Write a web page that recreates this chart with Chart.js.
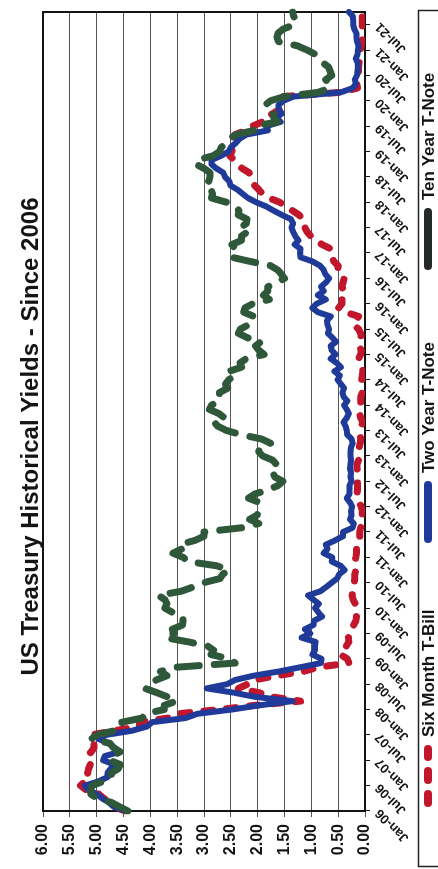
<!DOCTYPE html>
<html>
<head>
<meta charset="utf-8">
<title>US Treasury Historical Yields - Since 2006</title>
<script src="https://cdn.jsdelivr.net/npm/chart.js@4.4.1/dist/chart.umd.min.js"></script>
<style>
  html, body { margin: 0; padding: 0; background: #fff; }
  /* the chart is printed sideways: a landscape canvas turned a quarter turn counter-clockwise */
  #page { position: relative; width: 438px; height: 869px; overflow: hidden; background: #fff; }
  #frame { position: absolute; left: 0; top: 0; width: 869px; height: 438px;
           transform-origin: 0 0; transform: translateY(869px) rotate(-90deg); }
  canvas { display: block; }
</style>
</head>
<body>
<div id="page"><div id="frame"><canvas id="yields" width="869" height="438"></canvas></div></div>
<script>
// Month labels, Jan-06 through Oct-21
const monthNames = ['Jan','Feb','Mar','Apr','May','Jun','Jul','Aug','Sep','Oct','Nov','Dec'];
const yearCodes = ['06','07','08','09','10','11','12','13','14','15','16','17','18','19','20','21'];
const monthsInLastYear = 10;
const months = [];
yearCodes.forEach((yy, i) => {
  monthNames.forEach((m, j) => {
    if (i < yearCodes.length - 1 || j < monthsInLastYear) months.push(m + '-' + yy);
  });
});

// Value axis ticks
const yieldTicks = [0, 0.5, 1, 1.5, 2, 2.5, 3, 3.5, 4, 4.5, 5, 5.5, 6];

// Monthly yields, percent
const sixMonthTBill = [
  4.47, 4.67, 4.76, 4.87, 4.96, 5.20, 5.30, 5.22, 5.13, 5.17, 5.15, 5.12, // 2006
  5.15, 5.18, 5.10, 5.05, 5.05, 5.08, 5.10, 4.67, 4.20, 4.20, 3.67, 3.49, // 2007
  2.71, 2.05, 1.20, 1.74, 1.98, 2.36, 2.19, 2.07, 1.65, 1.15, 0.88, 0.30, // 2008
  0.33, 0.46, 0.43, 0.35, 0.30, 0.31, 0.28, 0.27, 0.21, 0.17, 0.16, 0.17, // 2009
  0.15, 0.18, 0.22, 0.24, 0.23, 0.22, 0.20, 0.19, 0.19, 0.17, 0.17, 0.19, // 2010
  0.17, 0.16, 0.16, 0.12, 0.09, 0.10, 0.10, 0.08, 0.05, 0.07, 0.05, 0.05, // 2011
  0.07, 0.11, 0.14, 0.15, 0.14, 0.14, 0.14, 0.13, 0.13, 0.15, 0.15, 0.12, // 2012
  0.11, 0.12, 0.11, 0.09, 0.08, 0.09, 0.08, 0.07, 0.04, 0.08, 0.10, 0.10, // 2013
  0.07, 0.08, 0.08, 0.05, 0.05, 0.06, 0.06, 0.05, 0.04, 0.05, 0.07, 0.12, // 2014
  0.08, 0.07, 0.11, 0.09, 0.07, 0.08, 0.12, 0.22, 0.17, 0.12, 0.37, 0.49, // 2015
  0.43, 0.43, 0.46, 0.39, 0.43, 0.41, 0.39, 0.45, 0.51, 0.50, 0.58, 0.62, // 2016
  0.61, 0.64, 0.80, 0.92, 1.01, 1.08, 1.12, 1.12, 1.15, 1.23, 1.35, 1.47, // 2017
  1.59, 1.79, 1.91, 1.98, 2.06, 2.11, 2.12, 2.16, 2.29, 2.37, 2.44, 2.52, // 2018
  2.48, 2.48, 2.49, 2.46, 2.42, 2.22, 2.10, 1.91, 1.89, 1.71, 1.59, 1.57, // 2019
  1.56, 1.52, 0.45, 0.14, 0.15, 0.17, 0.13, 0.12, 0.12, 0.11, 0.10, 0.09, // 2020
  0.09, 0.07, 0.05, 0.04, 0.04, 0.05, 0.05, 0.05, 0.05, 0.06              // 2021
];

const twoYearTNote = [
  4.45, 4.68, 4.77, 4.90, 5.00, 5.16, 5.22, 4.97, 4.80, 4.80, 4.74, 4.67, // 2006
  4.88, 4.85, 4.57, 4.67, 4.77, 4.96, 4.82, 4.34, 4.06, 3.97, 3.34, 3.12, // 2007
  2.48, 1.97, 1.35, 2.05, 2.45, 2.95, 2.57, 2.42, 2.08, 1.61, 1.21, 0.82, // 2008
  0.81, 0.98, 0.93, 0.93, 0.92, 1.18, 1.02, 1.12, 0.96, 0.95, 0.80, 0.87, // 2009
  0.93, 0.86, 0.96, 1.06, 0.83, 0.72, 0.62, 0.52, 0.48, 0.38, 0.45, 0.62, // 2010
  0.61, 0.77, 0.70, 0.73, 0.56, 0.41, 0.41, 0.23, 0.21, 0.28, 0.25, 0.26, // 2011
  0.24, 0.28, 0.34, 0.29, 0.29, 0.29, 0.25, 0.27, 0.26, 0.28, 0.27, 0.26, // 2012
  0.27, 0.27, 0.26, 0.23, 0.25, 0.33, 0.34, 0.36, 0.40, 0.34, 0.30, 0.34, // 2013
  0.39, 0.33, 0.40, 0.42, 0.39, 0.45, 0.51, 0.47, 0.57, 0.45, 0.53, 0.64, // 2014
  0.55, 0.62, 0.64, 0.54, 0.61, 0.69, 0.67, 0.70, 0.71, 0.64, 0.88, 0.98, // 2015
  0.90, 0.73, 0.88, 0.77, 0.82, 0.73, 0.67, 0.74, 0.77, 0.84, 0.98, 1.20, // 2016
  1.21, 1.20, 1.31, 1.24, 1.30, 1.34, 1.37, 1.34, 1.38, 1.55, 1.70, 1.84, // 2017
  2.03, 2.18, 2.28, 2.38, 2.51, 2.53, 2.61, 2.64, 2.77, 2.86, 2.86, 2.68, // 2018
  2.54, 2.50, 2.41, 2.34, 2.21, 1.81, 1.84, 1.57, 1.65, 1.55, 1.61, 1.61, // 2019
  1.52, 1.33, 0.45, 0.23, 0.17, 0.19, 0.15, 0.14, 0.13, 0.14, 0.17, 0.14, // 2020
  0.13, 0.12, 0.15, 0.16, 0.16, 0.20, 0.22, 0.22, 0.23, 0.30              // 2021
];

const tenYearTNote = [
  4.42, 4.57, 4.72, 4.99, 5.11, 5.11, 5.09, 4.88, 4.72, 4.73, 4.60, 4.56, // 2006
  4.76, 4.72, 4.56, 4.69, 4.75, 5.10, 5.00, 4.67, 4.52, 4.53, 4.15, 4.10, // 2007
  3.74, 3.74, 3.51, 3.68, 3.88, 4.10, 4.01, 3.89, 3.69, 3.81, 3.53, 2.42, // 2008
  2.52, 2.87, 2.82, 2.93, 3.29, 3.72, 3.56, 3.59, 3.40, 3.39, 3.40, 3.59, // 2009
  3.73, 3.69, 3.73, 3.85, 3.42, 3.20, 3.01, 2.70, 2.65, 2.54, 2.76, 3.29, // 2010
  3.39, 3.58, 3.41, 3.46, 3.17, 3.00, 3.00, 2.30, 1.98, 2.15, 2.01, 1.98, // 2011
  1.97, 1.97, 2.17, 2.05, 1.80, 1.62, 1.53, 1.68, 1.72, 1.75, 1.65, 1.72, // 2012
  1.91, 1.98, 1.96, 1.76, 1.93, 2.30, 2.58, 2.74, 2.81, 2.62, 2.72, 2.90, // 2013
  2.86, 2.71, 2.72, 2.71, 2.56, 2.60, 2.54, 2.42, 2.53, 2.30, 2.33, 2.21, // 2014
  1.88, 1.98, 2.04, 1.94, 2.20, 2.36, 2.32, 2.17, 2.17, 2.07, 2.26, 2.24, // 2015
  2.09, 1.78, 1.89, 1.81, 1.81, 1.64, 1.50, 1.56, 1.63, 1.76, 2.14, 2.49, // 2016
  2.43, 2.42, 2.48, 2.30, 2.30, 2.19, 2.32, 2.21, 2.20, 2.36, 2.35, 2.40, // 2017
  2.58, 2.86, 2.84, 2.87, 2.98, 2.91, 2.89, 2.89, 3.00, 3.15, 3.12, 2.83, // 2018
  2.71, 2.68, 2.57, 2.53, 2.40, 2.07, 2.06, 1.63, 1.70, 1.71, 1.81, 1.86, // 2019
  1.76, 1.50, 0.87, 0.66, 0.67, 0.73, 0.62, 0.65, 0.68, 0.79, 0.87, 0.93, // 2020
  1.08, 1.26, 1.61, 1.64, 1.62, 1.52, 1.32, 1.28, 1.33, 1.35              // 2021
];

const seriesNames = ['Six Month T-Bill', 'Two Year T-Note', 'Ten Year T-Note'];

const FONT = "'Liberation Sans', Arial, Helvetica, sans-serif";
const INK = '#141414';

// Series styles
const styles = [
  { color: '#c2162d', width: 7, dash: [9, 14], legendColor: '#c2162d', legendDash: [9, 14] },
  { color: '#1f3a98', width: 6, dash: [],      legendColor: '#1f3a98', legendDash: [] },
  { color: '#2e5839', width: 7, dash: [22, 15], legendColor: '#262a27', legendDash: [] }
];

// Frame around the plotting area
const plotFrame = {
  id: 'plotFrame',
  beforeDatasetsDraw(chart) {
    const { ctx, chartArea: a } = chart;
    ctx.save();
    ctx.strokeStyle = INK;
    ctx.lineWidth = 2;
    ctx.strokeRect(a.left, a.top, a.right - a.left, a.bottom - a.top);
    ctx.restore();
  }
};

// Boxed legend along the bottom edge
const boxedLegend = {
  id: 'boxedLegend',
  afterDraw(chart) {
    const { ctx } = chart;
    const boxTop = 418, rowY = 428;
    const textStarts = [132, 396, 669];
    const sampleLen = 62, sampleGap = 8;
    ctx.save();
    ctx.strokeStyle = '#222';
    ctx.lineWidth = 1.5;
    ctx.strokeRect(2.5, boxTop + 0.5, 856, 60);
    chart.data.datasets.forEach((ds, i) => {
      const st = styles[i];
      const x1 = textStarts[i] - sampleGap - sampleLen;
      ctx.beginPath();
      ctx.setLineDash(st.legendDash);
      ctx.lineCap = 'round';
      ctx.strokeStyle = st.legendColor;
      ctx.lineWidth = 8;
      ctx.moveTo(x1 + 4, rowY);
      ctx.lineTo(x1 + sampleLen - 4, rowY);
      ctx.stroke();
      ctx.setLineDash([]);
      ctx.fillStyle = INK;
      ctx.font = 'bold 17px ' + FONT;
      ctx.textBaseline = 'middle';
      ctx.textAlign = 'left';
      ctx.fillText(ds.label, textStarts[i], rowY + 1);
    });
    ctx.restore();
  }
};

const seriesValues = [sixMonthTBill, twoYearTNote, tenYearTNote];

new Chart(document.getElementById('yields'), {
  type: 'line',
  data: {
    labels: months,
    datasets: seriesValues.map((values, i) => ({
      label: seriesNames[i],
      data: values,
      borderColor: styles[i].color,
      backgroundColor: styles[i].color,
      borderWidth: styles[i].width,
      borderDash: styles[i].dash,
      borderCapStyle: 'round',
      borderJoinStyle: 'round',
      pointRadius: 0,
      tension: 0,
      fill: false,
      order: 3 - i
    }))
  },
  options: {
    responsive: false,
    animation: false,
    devicePixelRatio: 1,
    layout: { padding: { left: 8, right: 12, top: 0, bottom: 25 } },
    plugins: {
      legend: { display: false },
      tooltip: { enabled: false },
      title: {
        display: true,
        text: 'US Treasury Historical Yields - Since 2006',
        color: INK,
        font: { family: FONT, size: 24, weight: 'bold', lineHeight: 1 },
        padding: { top: 19, bottom: 0 }
      }
    },
    scales: {
      x: {
        type: 'category',
        offset: false,
        grid: { display: true, drawOnChartArea: false, tickLength: 5, color: INK, lineWidth: 1 },
        border: { display: true, color: INK, width: 2 },
        ticks: {
          autoSkip: false, minRotation: 45, maxRotation: 45, padding: 2,
          color: INK, font: { family: FONT, size: 13, weight: 'bold' }
        },
        afterBuildTicks(scale) { scale.ticks = scale.ticks.filter(t => t.value % 6 === 0); },
        afterFit(scale) { scale.height = 48; }
      },
      y: {
        min: yieldTicks[0],
        max: yieldTicks[yieldTicks.length - 1],
        afterBuildTicks(scale) { scale.ticks = yieldTicks.map(v => ({ value: v })); },
        grid: { color: '#555', lineWidth: 1, tickLength: 6 },
        border: { display: true, color: INK, width: 2 },
        ticks: {
          padding: 7, color: INK,
          font: { family: FONT, size: 16, weight: 'bold' },
          callback: v => Number(v).toFixed(2)
        },
        afterFit(scale) { scale.width = 50; }
      }
    }
  },
  plugins: [plotFrame, boxedLegend]
});
</script>
</body>
</html>
